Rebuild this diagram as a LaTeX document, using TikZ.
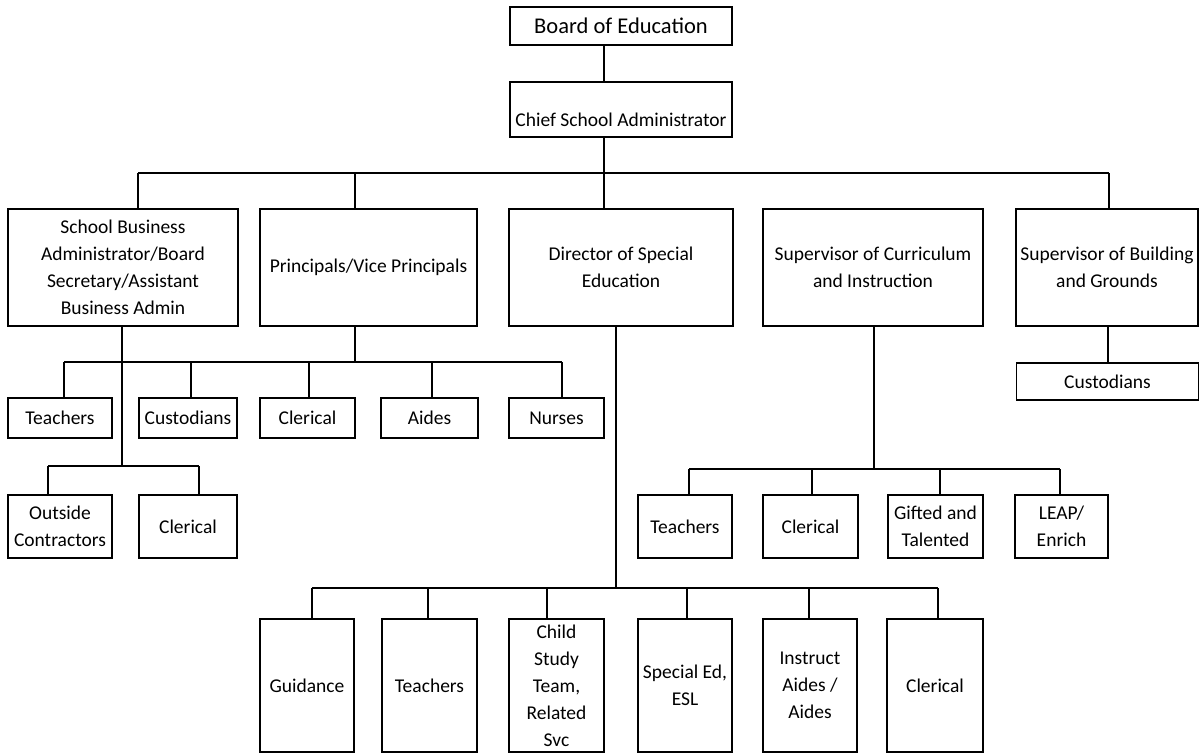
\documentclass[tikz,border=0pt]{standalone}
\usepackage{fontspec}
\setmainfont{Carlito}
\usepackage{tikz}

\begin{document}
\begin{tikzpicture}[
                x=1pt,y=-1pt,
                font=\fontsize{19.5}{27}\selectfont,
                box/.style={draw,line width=1.5pt,align=center,inner sep=1pt,text=black},
                link/.style={line width=1.2pt}] %

\useasboundingbox (0,0) rectangle (1199,755);

% top
                    \node[box,minimum width=222,minimum height=38,font=\fontsize{22.5}{27}\selectfont] (BOE) at (621,26) {Board of Education};
                    \node[box,minimum width=222,minimum height=55,text height=33pt,text depth=0pt] (CSA) at (621,109.5) {Chief School Administrator};
                    \coordinate (TOP) at (604,173);
                    \path [link] (BOE.south -| TOP) edge (CSA.north -| TOP);
                    \path [link] (CSA.south -| TOP) edge (TOP);

% second level
                    \node[box,minimum width=230,minimum height=117] (SBA) at (123,267.5) {School Business\\Administrator/Board\\Secretary/Assistant\\Business Admin};
                    \node[box,minimum width=217,minimum height=117] (PVP) at (368.5,267.5) {Principals/Vice Principals};
                    \node[box,minimum width=224,minimum height=117] (DSE) at (621,267.5) {Director of Special\\Education};
                    \node[box,minimum width=220,minimum height=117] (SCI) at (873,267.5) {Supervisor of Curriculum\\and Instruction};
                    \node[box,minimum width=182,minimum height=117] (SBG) at (1107,267.5) {Supervisor of Building\\and Grounds};

                    \coordinate (BUSL) at (138,173);
                    \coordinate (BUSP) at (355,173);
                    \coordinate (BUSR) at (1109,173);
                    \path [link] (BUSL) edge (BUSR);
                    \path [link] (BUSL) edge (BUSL |- SBA.north);
                    \path [link] (BUSP) edge (BUSP |- PVP.north);
                    \path [link] (TOP) edge (TOP |- DSE.north);
                    \path [link] (BUSR) edge (BUSR |- SBG.north);

% principals
                    \node[box,minimum width=104,minimum height=40] (PTEA) at (60,418) {Teachers};
                    \node[box,minimum width=98,minimum height=40] (PCUS) at (188,418) {Custodians};
                    \node[box,minimum width=95,minimum height=40] (PCLE) at (307.5,418) {Clerical};
                    \node[box,minimum width=97,minimum height=40] (PAID) at (429.5,418) {Aides};
                    \node[box,minimum width=95,minimum height=40] (PNUR) at (556.5,418) {Nurses};

                    \coordinate (PJ) at (355,362);
                    \coordinate (P1) at (64,362);
                    \coordinate (P2) at (191,362);
                    \coordinate (P3) at (309,362);
                    \coordinate (P4) at (432,362);
                    \coordinate (P5) at (562,362);
                    \path [link] (PVP.south -| PJ) edge (PJ);
                    \path [link] (P1) edge (P5);
                    \path [link] (P1) edge (P1 |- PTEA.north);
                    \path [link] (P2) edge (P2 |- PCUS.north);
                    \path [link] (P3) edge (P3 |- PCLE.north);
                    \path [link] (P4) edge (P4 |- PAID.north);
                    \path [link] (P5) edge (P5 |- PNUR.north);

% business admin
                    \node[box,minimum width=104,minimum height=63] (SOUT) at (60,526.5) {Outside\\Contractors};
                    \node[box,minimum width=98,minimum height=63] (SCLE) at (188,526.5) {Clerical};

                    \coordinate (SJ) at (122,466);
                    \coordinate (S1) at (48,466);
                    \coordinate (S2) at (199,466);
                    \path [link] (SBA.south -| SJ) edge (SJ);
                    \path [link] (S1) edge (S2);
                    \path [link] (S1) edge (S1 |- SOUT.north);
                    \path [link] (S2) edge (S2 |- SCLE.north);

% curriculum
                    \node[box,minimum width=94,minimum height=63] (CTEA) at (685,526.5) {Teachers};
                    \node[box,minimum width=95,minimum height=63] (CCLE) at (810.5,526.5) {Clerical};
                    \node[box,minimum width=95,minimum height=63] (CGIF) at (935.5,526.5) {Gifted and\\Talented};
                    \node[box,minimum width=93,minimum height=63] (CLEA) at (1061.5,526.5) {LEAP/\\Enrich};

                    \coordinate (CJ) at (874,469);
                    \coordinate (C1) at (689,469);
                    \coordinate (C2) at (812,469);
                    \coordinate (C3) at (940,469);
                    \coordinate (C4) at (1060,469);
                    \path [link] (SCI.south -| CJ) edge (CJ);
                    \path [link] (C1) edge (C4);
                    \path [link] (C1) edge (C1 |- CTEA.north);
                    \path [link] (C2) edge (C2 |- CCLE.north);
                    \path [link] (C3) edge (C3 |- CGIF.north);
                    \path [link] (C4) edge (C4 |- CLEA.north);

% building and grounds
                    \node[box,minimum width=182,minimum height=37] (GCUS) at (1107.5,381.5) {Custodians};
                    \path [link] (SBG.south -| 1108,0) edge (GCUS.north -| 1108,0);

% special education
                    \node[box,minimum width=94,minimum height=133] (DGUI) at (307,685.5) {Guidance};
                    \node[box,minimum width=95,minimum height=133] (DTEA) at (429.5,685.5) {Teachers};
                    \node[box,minimum width=95,minimum height=133] (DCST) at (556.5,685.5) {Child\\Study\\Team,\\Related\\Svc};
                    \node[box,minimum width=94,minimum height=133] (DSPE) at (685,685.5) {Special Ed,\\ESL};
                    \node[box,minimum width=94,minimum height=133] (DINS) at (810,685.5) {Instruct\\Aides /\\Aides};
                    \node[box,minimum width=96,minimum height=133] (DCLE) at (935,685.5) {Clerical};

                    \coordinate (DJ) at (616,588);
                    \coordinate (D1) at (312,588);
                    \coordinate (D2) at (428,588);
                    \coordinate (D3) at (547,588);
                    \coordinate (D4) at (687,588);
                    \coordinate (D5) at (809,588);
                    \coordinate (D6) at (938,588);
                    \path [link] (DSE.south -| DJ) edge (DJ);
                    \path [link] (D1) edge (D6);
                    \path [link] (D1) edge (D1 |- DGUI.north);
                    \path [link] (D2) edge (D2 |- DTEA.north);
                    \path [link] (D3) edge (D3 |- DCST.north);
                    \path [link] (D4) edge (D4 |- DSPE.north);
                    \path [link] (D5) edge (D5 |- DINS.north);
                    \path [link] (D6) edge (D6 |- DCLE.north);

%%%%%%%%%%%%%%%%%%%%%%%%%%%%%%%%%%%%%%%%%%%%%%%%%%%%%%%%%%%%%%%%%%%%%%%%%%%%%%%%%%%%

\end{tikzpicture}
\end{document}
